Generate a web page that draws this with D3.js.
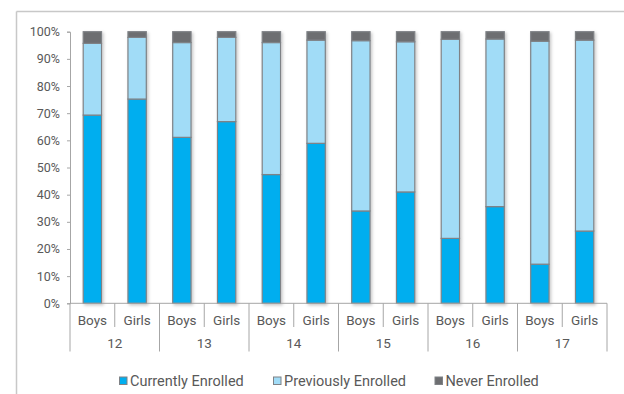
<!DOCTYPE html>
<html>
<head>
<meta charset="utf-8">
<script src="https://cdn.jsdelivr.net/npm/d3@7/dist/d3.min.js"></script>
<style>
  html, body { margin: 0; padding: 0; background: #fff; }
  svg { display: block; font-family: Roboto, "DejaVu Sans", sans-serif; }
</style>
</head>
<body>
<svg id="chart" width="624" height="394"></svg>
<script>
// Enrolment status by age and sex (share of children, %)
const ages = ["12", "13", "14", "15", "16", "17"];
const sexes = ["Boys", "Girls"];
const seriesNames = ["Currently Enrolled", "Previously Enrolled", "Never Enrolled"];
const currentlyEnrolled  = [69.3, 75.2, 61.1, 66.9, 47.4, 58.9, 34.0, 41.0, 23.9, 35.6, 14.4, 26.6];
const previouslyEnrolled = [26.4, 22.7, 34.9, 31.0, 48.6, 38.0, 62.7, 55.3, 73.3, 61.7, 82.1, 70.3];
const neverEnrolled      = [4.3, 2.1, 4.0, 2.1, 4.0, 3.1, 3.3, 3.7, 2.8, 2.7, 3.5, 3.1];
const yTicks = [0, 10, 20, 30, 40, 50, 60, 70, 80, 90, 100];

const colors = ["#00aeef", "#a1dcf7", "#6d6e71"];
const textColor = "#595959";
const axisColor = "#a6a6a6";

const svg = d3.select("#chart");

// outer frame (top and left edges)
svg.append("line").attr("x1", 16.5).attr("x2", 624).attr("y1", 11.5).attr("y2", 11.5)
  .attr("stroke", "#c8c8c8").attr("stroke-width", 1.5);
svg.append("line").attr("x1", 16.5).attr("x2", 16.5).attr("y1", 11.5).attr("y2", 394)
  .attr("stroke", "#c8c8c8").attr("stroke-width", 1.5);

const plot = { left: 70, right: 607, top: 31.7, bottom: 303.3 };

const rows = [];
ages.forEach((a, gi) => sexes.forEach((s, si) => {
  const i = gi * sexes.length + si;
  rows.push({ key: a + "-" + s, age: a, sex: s,
    "Currently Enrolled": currentlyEnrolled[i],
    "Previously Enrolled": previouslyEnrolled[i],
    "Never Enrolled": neverEnrolled[i] });
}));

const x = d3.scaleBand().domain(rows.map(d => d.key)).range([plot.left, plot.right])
  .paddingInner(0.59).paddingOuter(0.295);
const y = d3.scaleLinear().domain([0, 100]).range([plot.bottom, plot.top]);

// soft shadow under the bars
const defs = svg.append("defs");
const f = defs.append("filter").attr("id", "shadow").attr("x", "-30%").attr("y", "-10%")
  .attr("width", "160%").attr("height", "120%");
f.append("feDropShadow").attr("dx", 1.5).attr("dy", 1.5).attr("stdDeviation", 1.5)
  .attr("flood-color", "#000").attr("flood-opacity", 0.22);

// y axis
const yAxis = svg.append("g").attr("transform", `translate(${plot.left},0)`)
  .call(d3.axisLeft(y).tickValues(yTicks).tickFormat(d => d + "%").tickSize(3).tickPadding(7));
yAxis.select(".domain").attr("stroke", axisColor);
yAxis.selectAll(".tick line").attr("stroke", axisColor);
yAxis.selectAll(".tick text").attr("fill", textColor).style("font-size", "12.5px")
  .style("font-family", "Roboto, 'DejaVu Sans', sans-serif");

// stacked bars
const stack = d3.stack().keys(seriesNames);
const layers = stack(rows);
const barG = svg.append("g").attr("filter", "url(#shadow)");
layers.forEach((layer, li) => {
  barG.append("g").selectAll("rect").data(layer).join("rect")
    .attr("x", d => x(d.data.key))
    .attr("width", x.bandwidth())
    .attr("y", d => y(d[1]))
    .attr("height", d => y(d[0]) - y(d[1]))
    .attr("fill", colors[li])
    .attr("stroke", "#7f8286")
    .attr("stroke-width", 1.2);
});

// x axis: baseline and multi-level category labels
const step = x.step();
const x0 = x.range()[0];
svg.append("line").attr("x1", plot.left).attr("x2", plot.right)
  .attr("y1", plot.bottom).attr("y2", plot.bottom).attr("stroke", axisColor);
rows.forEach((d, i) => {
  const bx = x0 + i * step;
  const isGroupEdge = i % sexes.length === 0;
  svg.append("line").attr("x1", bx).attr("x2", bx).attr("y1", plot.bottom)
    .attr("y2", isGroupEdge ? 351.5 : 327).attr("stroke", axisColor);
  svg.append("text").attr("x", bx + step / 2).attr("y", 324.5)
    .attr("text-anchor", "middle").attr("fill", textColor).style("font-size", "13.5px")
    .text(d.sex);
});
svg.append("line").attr("x1", plot.right).attr("x2", plot.right)
  .attr("y1", plot.bottom).attr("y2", 351.5).attr("stroke", axisColor);
ages.forEach((a, gi) => {
  const gx = x0 + (gi + 0.5) * step * sexes.length;
  svg.append("text").attr("x", gx).attr("y", 348)
    .attr("text-anchor", "middle").attr("fill", textColor).style("font-size", "13.5px")
    .text(a);
});

// legend
const legendX = [119.5, 273.5, 435];
const lg = svg.append("g");
seriesNames.forEach((name, i) => {
  const g = lg.append("g").attr("transform", `translate(${legendX[i]},377)`);
  g.append("rect").attr("x", 0).attr("y", 0).attr("width", 7.5).attr("height", 7.5)
    .attr("fill", colors[i]).attr("stroke", "#7f8286").attr("stroke-width", 1);
  g.append("text").attr("x", 10.5).attr("y", 9).attr("fill", textColor)
    .style("font-size", "14.5px").text(name);
});
</script>
</body>
</html>
